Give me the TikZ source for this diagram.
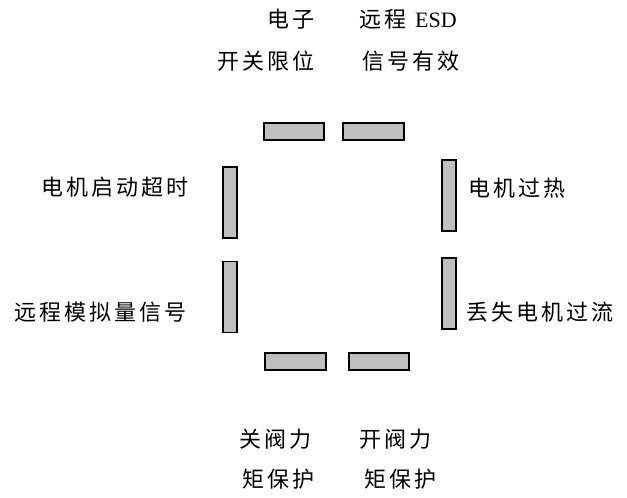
\documentclass[tikz,border=0pt]{standalone}
\usepackage{fontspec}
\setmainfont{Noto Sans CJK SC}[LetterSpace=14]
\newfontfamily\latfont{Liberation Serif}
\begin{document}
\begin{tikzpicture}[x=1pt,y=-1pt,
  bar/.style={draw=black,line width=1.6pt,fill=black!25,inner sep=0pt,outer sep=0pt},
  hbar/.style={bar,minimum width=60.5pt,minimum height=17.5pt},
  vbar/.style={bar,minimum width=14.5pt,minimum height=71pt},
  lbl/.style={inner sep=0pt,outer sep=0pt,anchor=west,font=\fontsize{22}{22}\selectfont}]
\fill[white] (0,0) rectangle (627,498);
\useasboundingbox (0,0) rectangle (627,498);
% bars
\node[hbar] (t1) at (294,131.5) {};
\node[hbar] (t2) at (373.5,131.5) {};
\node[hbar] (b1) at (295.5,361.5) {};
\node[hbar] (b2) at (379,361.5) {};
\node[vbar] (l1) at (230,202.5) {};
\node[vbar] (l2) at (230,297) {};
\node[vbar] (r1) at (449,195.5) {};
\node[vbar] (r2) at (449,293.5) {};
% labels
\node[lbl] (a1) at (267,19) {电子};
\node[lbl] (a2) at (359,19) {远程\hspace{9pt}{\latfont ESD}};
\node[lbl] (a3) at (217,61) {开关限位};
\node[lbl] (a4) at (362,61) {信号有效};
\node[lbl] (c1) at (41,187) {电机启动超时};
\node[lbl] (c2) at (14,312) {远程模拟量信号};
\node[lbl] (d1) at (468,188) {电机过热};
\node[lbl] (d2) at (466,312) {丢失电机过流};
\node[lbl] (e1) at (239,439) {关阀力};
\node[lbl] (e2) at (359,439) {开阀力};
\node[lbl] (e3) at (242,479) {矩保护};
\node[lbl] (e4) at (364,479) {矩保护};
\end{tikzpicture}
\end{document}
